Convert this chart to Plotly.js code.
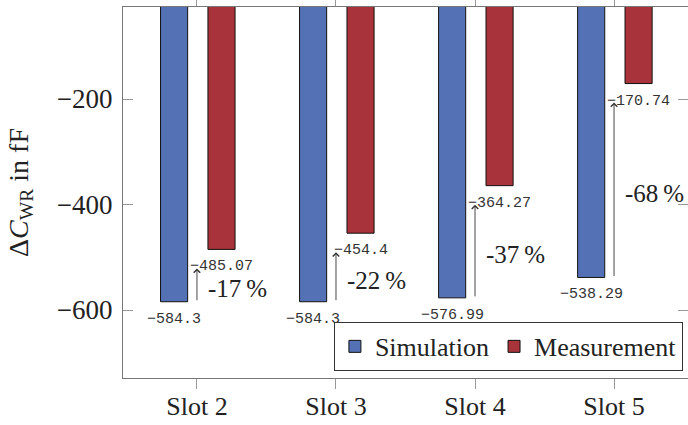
<!DOCTYPE html>
<html>
<head>
<meta charset="utf-8">
<script src="https://cdn.plot.ly/plotly-3.0.1.min.js"></script>
<style>
html, body { margin: 0; padding: 0; overflow: hidden; background: #fff; }
#chart { width: 688px; height: 425px; }
</style>
</head>
<body>
<div id="chart"></div>
<script>
// ---- data ----
const categories = ['Slot 2', 'Slot 3', 'Slot 4', 'Slot 5'];
const simulation = [-584.3, -584.3, -576.99, -538.29];
const measurement = [-485.07, -454.4, -364.27, -170.74];
const pctLabels = ['-17', '-22', '-37', '-68'];
const yTicks = [-200, -400, -600];

// ---- styles ----
const serif = 'Liberation Serif, Times New Roman, serif';
const mono = 'Liberation Mono, Courier New, monospace';
const blue = '#5571b5';
const red = '#a8333a';
const barW = 0.195;
const offBlue = -0.262;
const offRed = 0.079;

const idx = categories.map((c, i) => i);
const fmt = v => String(v).replace('-', '\u2212');

const traces = [
  {
    type: 'bar', name: 'Simulation', x: idx, y: simulation,
    width: barW, offset: offBlue,
    marker: { color: blue, line: { color: '#111', width: 1 } },
    hoverinfo: 'skip'
  },
  {
    type: 'bar', name: 'Measurement', x: idx, y: measurement,
    width: barW, offset: offRed,
    marker: { color: red, line: { color: '#111', width: 1 } },
    hoverinfo: 'skip'
  }
];

const annotations = [];
idx.forEach(i => {
  // value labels below bar ends
  annotations.push({
    x: i + offBlue + barW / 2, y: simulation[i], xref: 'x', yref: 'y',
    text: fmt(simulation[i]), showarrow: false, yanchor: 'top', yshift: -7,
    font: { family: mono, size: 15, color: '#333' }
  });
  annotations.push({
    x: i + offRed + barW / 2, y: measurement[i], xref: 'x', yref: 'y',
    text: fmt(measurement[i]), showarrow: false, yanchor: 'top', yshift: -7,
    font: { family: mono, size: 15, color: '#333' }
  });
  // arrow from simulation to measurement
  annotations.push({
    x: i, y: measurement[i], xref: 'x', yref: 'y',
    ax: i, ay: simulation[i], axref: 'x', ayref: 'y',
    text: '', showarrow: true, arrowhead: 4, arrowsize: 1.4, arrowwidth: 0.9,
    arrowcolor: '#333', standoff: 19, startstandoff: 0
  });
  // percentage label
  annotations.push({
    x: i, y: (simulation[i] + measurement[i]) / 2, xref: 'x', yref: 'y',
    text: pctLabels[i] + '\u2009%', showarrow: false,
    xanchor: 'left', xshift: 9, yshift: -13,
    font: { family: serif, size: 25, color: '#222' }
  });
});

const layout = {
  width: 688, height: 425,
  margin: { l: 123, r: 0, t: 7, b: 47 },
  paper_bgcolor: '#fff', plot_bgcolor: '#fff',
  barmode: 'overlay',
  showlegend: true,
  legend: {
    orientation: 'h', x: 0.991, xanchor: 'right', y: 0.019, yanchor: 'bottom',
    bgcolor: '#fff', bordercolor: '#333', borderwidth: 1,
    font: { family: serif, size: 26, color: '#222' },
    itemwidth: 30, tracegroupgap: 0
  },
  xaxis: {
    type: 'linear', range: [-0.532, 3.532],
    tickvals: idx, ticktext: categories,
    ticks: 'outside', ticklen: 10, tickcolor: '#999', tickwidth: 1,
    showline: true, linecolor: '#777', linewidth: 1, mirror: 'ticks',
    showgrid: false, zeroline: false,
    ticklabelstandoff: -5,
    tickfont: { family: serif, size: 26, color: '#222' }
  },
  yaxis: {
    range: [-728.9, -25.6],
    tickvals: yTicks,
    ticks: 'inside', ticklen: 10, tickcolor: '#999', tickwidth: 1,
    showline: true, linecolor: '#777', linewidth: 1, mirror: 'ticks',
    showgrid: false, zeroline: false,
    ticklabelstandoff: 4,
    tickfont: { family: serif, size: 27, color: '#222' },
    title: { text: '\u0394<i>C</i><sub>WR</sub> in fF', font: { family: serif, size: 28, color: '#222' }, standoff: 20 }
  },
  annotations: annotations
};

Plotly.newPlot('chart', traces, layout, { staticPlot: true, displayModeBar: false });
</script>
</body>
</html>
